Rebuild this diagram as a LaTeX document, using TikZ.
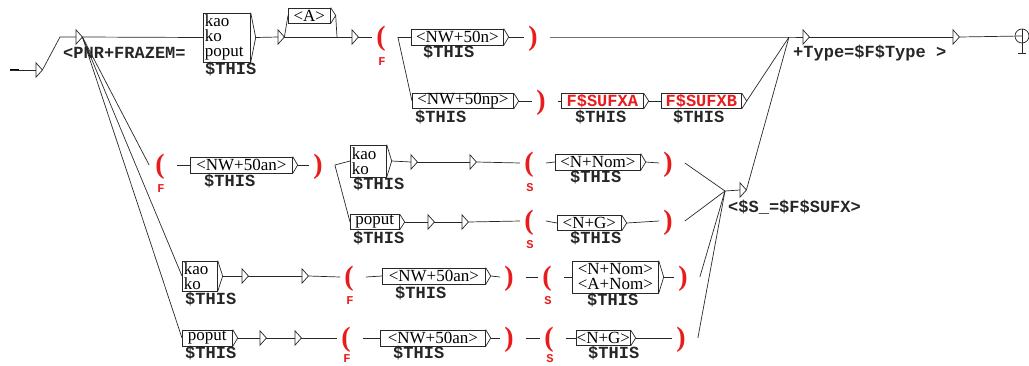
\documentclass[tikz,border=0pt]{standalone}
\usepackage{fontspec}
\setmainfont{Liberation Serif}
\newfontfamily\monofam{Liberation Mono}
\usetikzlibrary{calc}
\definecolor{ured}{RGB}{232,28,28}
\definecolor{uline}{RGB}{40,40,40}
\tikzset{
  ubox/.style={draw=uline, rectangle, inner sep=0pt, anchor=west, line width=0.7pt,
     font=\fontsize{17}{15}\selectfont, align=center},
  eps/.style={inner sep=0pt, minimum width=6pt, minimum height=14pt, anchor=west},
  mlab/.style={inner sep=0pt, anchor=west, font=\fontsize{17}{17}\monofam\bfseries, text=black!85},
  thislab/.style={mlab, anchor=base west, text height=10pt, text depth=1pt},
  paren/.style={inner sep=0pt, text=ured, font=\fontsize{28}{28}\selectfont\bfseries, text height=18pt, text depth=1.2pt},
  plab/.style={inner sep=0pt, text=ured, font=\fontsize{12}{12}\monofam\bfseries},
  conn/.style={draw=uline, line width=0.7pt},
}
\begin{document}
\begin{tikzpicture}[x=1pt,y=-1pt]
\useasboundingbox (0,0) rectangle (1029,365);

% ---------- epsilon triangles ----------
\node[eps] (t0) at (36,70) {};
\node[eps] (tP) at (76,37) {};
\node[eps] (tA) at (278,37) {};
\node[eps] (tB) at (352,37) {};
\node[eps] (tT) at (803,37) {};
\node[eps] (tE) at (953,37) {};
\node[eps] (tS) at (740,190) {};
\node[eps] (t2a) at (411,162) {};
\node[eps] (t2b) at (470,162) {};
\node[eps] (t3a) at (428,222) {};
\node[eps] (t3b) at (462,222) {};
\node[eps] (t4a) at (242,276) {};
\node[eps] (t4b) at (302,276) {};
\node[eps] (t5a) at (260,338) {};
\node[eps] (t5b) at (295,338) {};
\foreach \t in {t0,tP,tA,tB,tT,tE,tS,t2a,t2b,t3a,t3b,t4a,t4b,t5a,t5b}
  \draw[conn] (\t.north west) -- (\t.east) -- (\t.south west) -- cycle;

% ---------- boxes ----------
\node[ubox, minimum width=47pt, minimum height=49pt, text width=44pt, align=left] (B1) at (203,37.5) {kao\\ko\\poput};
\node[ubox, minimum width=42pt, minimum height=15pt] (BA) at (288,15.5) {<A>};
\node[ubox, minimum width=92pt, minimum height=16pt] (Bn) at (411,37) {<NW+50n>};
\node[ubox, minimum width=101pt, minimum height=15pt] (Bnp) at (412,101) {<NW+50np>};
\node[ubox, minimum width=82pt, minimum height=15pt, font=\fontsize{17}{17}\monofam\bfseries, text=ured] (Ba) at (561,101) {F\$SUFXA};
\node[ubox, minimum width=80pt, minimum height=15pt, font=\fontsize{17}{17}\monofam\bfseries, text=ured] (Bb) at (661,101) {F\$SUFXB};
\node[ubox, minimum width=102pt, minimum height=16pt] (B2a) at (190,165) {<NW+50an>};
\node[ubox, minimum width=36pt, minimum height=32pt, text width=33pt, align=left] (B2k) at (350,161) {kao\\ko};
\node[ubox, minimum width=85pt, minimum height=16pt] (B2n) at (555,162) {<N+Nom>};
\node[ubox, minimum width=49pt, minimum height=15pt] (B3p) at (350,222) {poput};
\node[ubox, minimum width=64pt, minimum height=15pt] (B3g) at (557,223) {<N+G>};
\node[ubox, minimum width=35pt, minimum height=30pt, text width=32pt, align=left] (B4k) at (182,276) {kao\\ko};
\node[ubox, minimum width=103pt, minimum height=16pt] (B4a) at (382,276) {<NW+50an>};
\node[ubox, minimum width=86pt, minimum height=32pt] (B4n) at (572,277) {<N+Nom>\\<A+Nom>};
\node[ubox, minimum width=50pt, minimum height=16pt] (B5p) at (182,338) {poput};
\node[ubox, minimum width=105pt, minimum height=16pt] (B5a) at (380,338) {<NW+50an>};
\node[ubox, minimum width=54pt, minimum height=15pt] (B5g) at (576,338) {<N+G>};
\foreach \b in {B1,BA,Bn,Bnp,Ba,Bb,B2a,B2k,B2n,B3p,B3g,B4k,B4a,B4n,B5p,B5a,B5g}{
  \draw[conn] (\b.north east) -- ($(\b.east)+(5,0)$) -- (\b.south east);
  \coordinate (\b-o) at ($(\b.east)+(5,0)$);
}

% ---------- $THIS labels (positioned by baseline) ----------
\node[thislab] (h1) at (205,74) {\$THIS};
\node[thislab] (hn) at (423,57.5) {\$THIS};
\node[thislab] (hnp) at (415,122) {\$THIS};
\node[thislab] (ha) at (575,122) {\$THIS};
\node[thislab] (hb) at (673,122) {\$THIS};
\node[thislab] (h2a) at (204,186.5) {\$THIS};
\node[thislab] (h2k) at (353,189) {\$THIS};
\node[thislab] (h2n) at (570,182.5) {\$THIS};
\node[thislab] (h3p) at (353,243) {\$THIS};
\node[thislab] (h3g) at (570,243) {\$THIS};
\node[thislab] (h4k) at (185,304) {\$THIS};
\node[thislab] (h4a) at (395,298.5) {\$THIS};
\node[thislab] (h4n) at (587,305.5) {\$THIS};
\node[thislab] (h5p) at (185,358) {\$THIS};
\node[thislab] (h5a) at (393,358) {\$THIS};
\node[thislab] (h5g) at (588,358) {\$THIS};

% ---------- output labels ----------
\node[mlab] (lPNR) at (63,53) {<PNR+FRAZEM=};
\node[mlab] (lType) at (793,53) {+Type=\$F\$Type >};
\node[mlab] (lS) at (728,207) {<\$S\_=\$F\$SUFX>};

% ---------- parentheses ----------
\node[paren] (pF1) at (381,37) {(};   \node[plab] (lF1) at (382,62) {F};
\node[paren] (pC1) at (533,37) {)};
\node[paren] (pC1b) at (541,101) {)};
\node[paren] (pF2) at (160,165) {(};  \node[plab] (lF2) at (161,189) {F};
\node[paren] (pC2) at (318,165) {)};
\node[paren] (pS2) at (529,163) {(};  \node[plab] (lS2) at (530,188) {S};
\node[paren] (pS2c) at (668,163) {)};
\node[paren] (pS3) at (529,221) {(};  \node[plab] (lS3) at (530,245) {S};
\node[paren] (pS3c) at (668,221) {)};
\node[paren] (pF4) at (349,277) {(};  \node[plab] (lF4) at (350,301) {F};
\node[paren] (pC4) at (509,277) {)};
\node[paren] (pS4) at (547,277) {(};  \node[plab] (lS4) at (548,301) {S};
\node[paren] (pS4c) at (683,277) {)};
\node[paren] (pF5) at (346,338) {(};  \node[plab] (lF5) at (347,359) {F};
\node[paren] (pC5) at (509,338) {)};
\node[paren] (pS5) at (549,338) {(};  \node[plab] (lS5) at (550,359) {S};
\node[paren] (pS5c) at (681,338) {)};

% ---------- final state ----------
\node[draw=uline, circle, minimum size=14pt, inner sep=0pt, line width=0.7pt] (fin) at (1022,36) {};
\coordinate (finb) at (1022,53);
\draw[conn] (fin.north) -- (finb);
\draw[conn] ([xshift=-4pt]finb) -- ([xshift=4pt]finb);

% ---------- junctions ----------
\coordinate (st) at (10,70);
\coordinate (st2) at (19,70);
\coordinate (j0) at (60,37);
\coordinate (jA) at (337,37);
\coordinate (mT) at (789,37);
\coordinate (mS) at (725,191);
\coordinate (j2) at ([xshift=12pt]pC2.east);

% ---------- connectors ----------
\draw[draw=black, line width=1.6pt] (st) -- (st2);
\draw[conn] (st) -- (t0.west);
\draw[conn] (t0.east) -- (j0) -- (tP.west);
\draw[conn] (tP.east) -- (B1.west);
\draw[conn] (B1-o) -- (tA.west);
\draw[conn] (tA.east) -- (BA.west);
\draw[conn] (tA.east) -- (tB.west);
\draw[conn] (BA-o) -- (jA);
\draw[conn] (tB.east) -- ([xshift=-4pt]pF1.west);
\draw[conn] ([xshift=12pt]pF1.east) -- (Bn.west);
\draw[conn] ([xshift=12pt]pF1.east) -- (Bnp.west);
\draw[conn] (Bn-o) -- ([xshift=-4pt]pC1.west);
\draw[conn] ([xshift=12pt]pC1.east) -- (mT) -- (tT.west);
\draw[conn] (Bnp-o) -- ([xshift=-4pt]pC1b.west);
\draw[conn] ([xshift=12pt]pC1b.east) -- (Ba.west);
\draw[conn] (Ba-o) -- (Bb.west);
\draw[conn] (Bb-o) -- (mT);
\draw[conn] (tT.east) -- (tE.west);
\draw[conn] (tE.east) -- (fin.center);

% fan
\draw[conn] (tP.east) -- ([xshift=-6pt]pF2.west);
\draw[conn] (tP.east) -- (B4k.west);
\draw[conn] (tP.east) -- (B5p.west);

% row 2 / 3
\draw[conn] ([xshift=12pt]pF2.east) -- (B2a.west);
\draw[conn] (B2a-o) -- ([xshift=-4pt]pC2.west);
\draw[conn] (j2) -- (B2k.west);
\draw[conn] (j2) -- (B3p.west);
\draw[conn] (B2k-o) -- (t2a.west);
\draw[conn] (t2a.east) -- (t2b.west);
\draw[conn] (t2b.east) -- ([xshift=-4pt]pS2.west);
\draw[conn] ([xshift=12pt]pS2.east) -- (B2n.west);
\draw[conn] (B2n-o) -- ([xshift=-4pt]pS2c.west);
\draw[conn] ([xshift=12pt]pS2c.east) -- (mS);
\draw[conn] (B3p-o) -- (t3a.west);
\draw[conn] (t3a.east) -- (t3b.west);
\draw[conn] (t3b.east) -- ([xshift=-4pt]pS3.west);
\draw[conn] ([xshift=12pt]pS3.east) -- (B3g.west);
\draw[conn] (B3g-o) -- ([xshift=-4pt]pS3c.west);
\draw[conn] ([xshift=12pt]pS3c.east) -- (mS);

% row 4
\draw[conn] (B4k-o) -- (t4a.west);
\draw[conn] (t4a.east) -- (t4b.west);
\draw[conn] (t4b.east) -- ([xshift=-4pt]pF4.west);
\draw[conn] ([xshift=12pt]pF4.east) -- (B4a.west);
\draw[conn] (B4a-o) -- ([xshift=-4pt]pC4.west);
\draw[conn] ([xshift=12pt]pC4.east) -- ([xshift=-4pt]pS4.west);
\draw[conn] ([xshift=12pt]pS4.east) -- (B4n.west);
\draw[conn] (B4n-o) -- ([xshift=-4pt]pS4c.west);
\draw[conn] ([xshift=12pt]pS4c.east) -- (mS);

% row 5
\draw[conn] (B5p-o) -- (t5a.west);
\draw[conn] (t5a.east) -- (t5b.west);
\draw[conn] (t5b.east) -- ([xshift=-4pt]pF5.west);
\draw[conn] ([xshift=12pt]pF5.east) -- (B5a.west);
\draw[conn] (B5a-o) -- ([xshift=-4pt]pC5.west);
\draw[conn] ([xshift=12pt]pC5.east) -- ([xshift=-4pt]pS5.west);
\draw[conn] ([xshift=12pt]pS5.east) -- (B5g.west);
\draw[conn] (B5g-o) -- ([xshift=-4pt]pS5c.west);
\draw[conn] ([xshift=12pt]pS5c.east) -- (mS);

% to the shared output
\draw[conn] (mS) -- (tS.west);
\draw[conn] (tS.east) -- (mT);
\end{tikzpicture}
\end{document}
